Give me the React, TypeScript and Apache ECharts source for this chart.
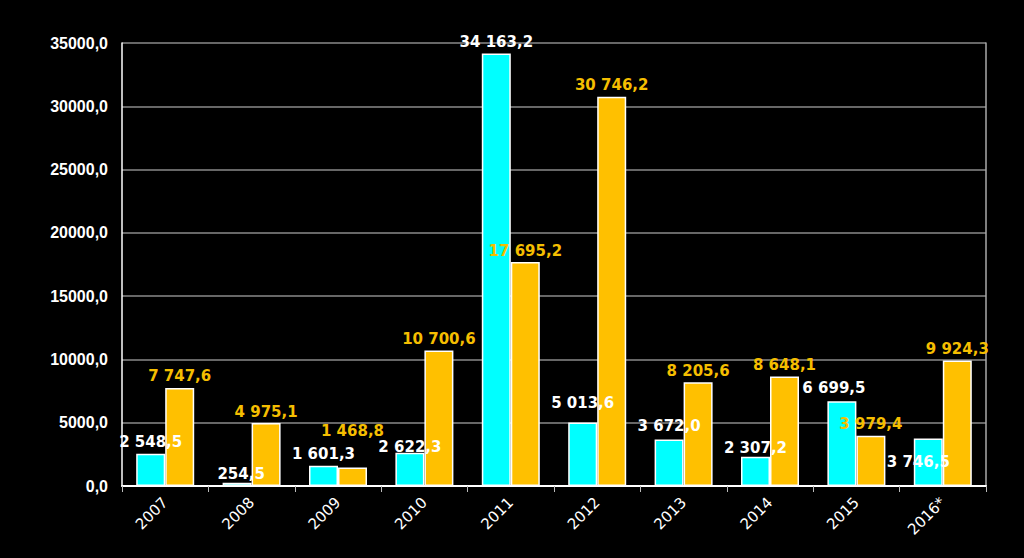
import React, { useEffect, useRef } from "react";
import * as echarts from "echarts";

const categories = ["2007", "2008", "2009", "2010", "2011", "2012", "2013", "2014", "2015", "2016*"];
const cyanValues = [2548.5, 254.5, 1601.3, 2622.3, 34163.2, 5013.6, 3672.0, 2307.2, 6699.5, 3746.5];
const orangeValues = [7747.6, 4975.1, 1468.8, 10700.6, 17695.2, 30746.2, 8205.6, 8648.1, 3979.4, 9924.3];

// label nudges [dx, dy] in pixels, to mimic the hand-placed labels
const cyanLabelOffsets = [[0, 0], [4, 3], [0, 0], [0, 6], [0, 0], [0, -8], [0, -2], [0, 3], [-8, -2], [-10, 35]];
const orangeLabelOffsets = [[0, 0], [0, 0], [0, -25], [0, 0], [0, 0], [0, 0], [0, 0], [0, 0], [0, 0], [0, 0]];

const fmt = (v: number) => {
  const [i, d] = v.toFixed(1).split(".");
  return i.replace(/\B(?=(\d{3})+(?!\d))/g, " ") + "," + d;
};

export default function App() {
  const ref = useRef<HTMLDivElement>(null);
  useEffect(() => {
    const chart = echarts.init(ref.current!, null, { renderer: "svg" });
    const labelBase = {
      show: true,
      position: "top",
      distance: 4,
      fontFamily: "DejaVu Sans",
      fontWeight: "bold",
      fontSize: 15,
      formatter: (p: any) => fmt(p.value),
    };
    chart.setOption({
      animation: false,
      backgroundColor: "#000000",
      grid: { left: 122, right: 38, top: 43, bottom: 72, containLabel: false },
      xAxis: {
        type: "category",
        data: categories,
        axisLine: { lineStyle: { color: "#ffffff", width: 2 } },
        axisTick: { show: true, alignWithLabel: false, length: 6, lineStyle: { color: "#bbbbbb", width: 1 } },
        axisLabel: { color: "#ffffff", fontFamily: "DejaVu Sans", fontSize: 15, rotate: 45, margin: 14 },
      },
      yAxis: [
        {
          type: "value",
          min: 0,
          max: 35000,
          interval: 5000,
          axisLine: { show: true, lineStyle: { color: "#ffffff", width: 1.5 } },
          axisTick: { show: false },
          splitLine: { lineStyle: { color: "#8a8a8a", width: 1.5 } },
          axisLabel: {
            color: "#ffffff",
            fontFamily: "Liberation Sans",
            fontWeight: "bold",
            fontSize: 16,
            margin: 14,
            formatter: (v: number) => v.toFixed(1).replace(".", ","),
          },
        },
        {
          type: "value",
          position: "right",
          min: 0,
          max: 35000,
          interval: 5000,
          axisLine: { show: true, lineStyle: { color: "#aaaaaa", width: 1.5 } },
          axisTick: { show: false },
          axisLabel: { show: false },
          splitLine: { show: false },
        },
      ],
      series: [
        {
          type: "bar",
          barWidth: 29,
          barGap: "0%",
          itemStyle: { color: "#00FFFF", borderColor: "#ffffff", borderWidth: 1.5 },
          label: { ...labelBase, color: "#ffffff" },
          data: cyanValues.map((v, i) => ({ value: v, label: { offset: cyanLabelOffsets[i] } })),
          z: 2,
        },
        {
          type: "bar",
          barWidth: 29,
          itemStyle: { color: "#FFC000", borderColor: "#ffffff", borderWidth: 1.5 },
          label: { ...labelBase, color: "#F5BE00" },
          data: orangeValues.map((v, i) => ({ value: v, label: { offset: orangeLabelOffsets[i] } })),
          z: 2,
        },
      ],
    });
    return () => chart.dispose();
  }, []);
  return <div ref={ref} style={{ width: 1024, height: 558, position: "absolute", left: 0, top: 0 }} />;
}
